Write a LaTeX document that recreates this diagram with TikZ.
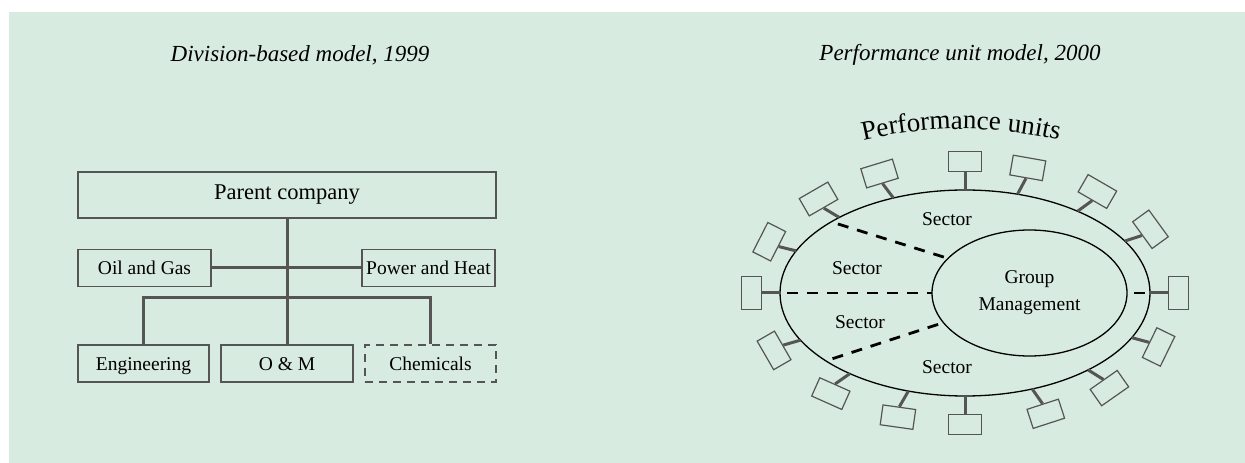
\documentclass[tikz,border=0pt]{standalone}
\usepackage{fontspec}
\setmainfont{Liberation Serif}
\usetikzlibrary{shapes.geometric, calc, positioning, decorations.text}
\definecolor{panel}{RGB}{216,235,224}
\definecolor{edge}{RGB}{85,85,85}
\tikzset{
  box/.style={draw=edge, line width=1.2pt, minimum height=37pt, inner sep=0pt,
    text height=14pt, text depth=0pt, font=\fontsize{19.5}{23}\selectfont},
  dashbox/.style={box, dash pattern=on 8pt off 6pt},
  link/.style={draw=edge, line width=3pt},
  unit/.style={draw=edge, line width=1.2pt, minimum width=33pt, minimum height=20pt, inner sep=0pt},
  ring/.style={ellipse, draw, line width=1.3pt, inner sep=0pt, outer sep=0pt},
  split/.style={line width=2.8pt, dash pattern=on 11pt off 9pt},
  lbl/.style={font=\fontsize{19.5}{27}\selectfont, align=center},
  heading/.style={font=\fontsize{23}{27}\selectfont\itshape}
}

\begin{document}
\begin{tikzpicture}[x=1pt, y=1pt]
\fill[white] (0,0) rectangle (1245,463);
\fill[panel] (9,0) rectangle (1245,451);
\useasboundingbox (0,0) rectangle (1245,463);

% titles
\node[heading] (div title) at (300,408) {Division-based model, 1999};
\node[heading] (unit title) at (960,408) {Performance unit model, 2000};

% divisions
\node[box, minimum width=418pt, minimum height=46pt, text height=15pt, text depth=5pt,
  font=\fontsize{22.5}{26}\selectfont] (parent) at (287,268) {Parent company};
\node[box, minimum width=133pt] (oil) at (144.5,195) {Oil and Gas};
\node[box, minimum width=133pt] (power) at (428.5,195) {Power and Heat};
\node[box, minimum width=131pt] (eng) at (143.5,99.5) {Engineering};
\node[box, minimum width=132pt] (om) at (287,99.5) {O \& M};
\node[dashbox, minimum width=131pt] (chem) at (430.5,99.5) {Chemicals};

\draw[link] (parent) -- (om);
\draw[link] (oil) -- (power);
\draw[link] (eng.north) -- ++(0,47) -| (chem.north);

% sectors round the group management
\node[ring, minimum width=370pt, minimum height=206pt] (outer) at (965,170) {};
\node[ring, minimum width=195pt, minimum height=126pt] (inner) at (1029.5,170) {};
\node[lbl] (group) at (inner.center) {Group\\Management};

\node[lbl] (sec top) at (947,244) {Sector};
\node[lbl] (sec upper) at (857,195) {Sector};
\node[lbl] (sec lower) at (860,141) {Sector};
\node[lbl] (sec bottom) at (947,96) {Sector};

\draw[split, shorten <=7pt] (outer.152) -- (inner.157);
\draw[split, shorten <=7pt] (outer.west) -- (inner.west);
\draw[split, shorten <=7pt] (outer.206) -- (inner.199);
\draw[split, shorten <=7pt] (inner.east) -- (outer.east);

% performance units
\foreach \a/\r [count=\i] in {90/0, 62/-10, 36/-30, 18/-54, 0/-90, -15/-116, -32/-145,
    -55/-162, -90/180, -120/172, -145/156, -164/120, 180/90, 166/63, 149/30, 127/17} {
  \node[unit, rotate=\r, anchor=south] (unit\i) at ($(outer.\a)+(\a:18pt)$) {};
  \draw[link] (outer.\a) -- (unit\i.south);
}

\path[decorate, decoration={text along path, text align=center,
    text={|\fontsize{27}{31}\selectfont|Performance units}}]
  ([shift={(961,-97)}]110:431pt) arc[start angle=110, end angle=70, radius=431pt];
\end{tikzpicture}
\end{document}
